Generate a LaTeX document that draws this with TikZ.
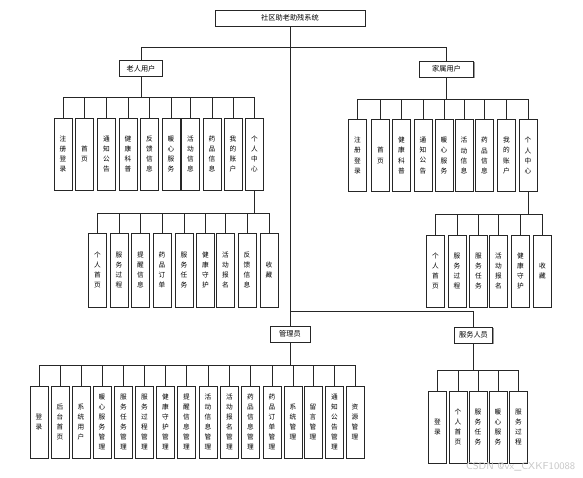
\documentclass[tikz,border=0pt]{standalone}
\usepackage{fontspec}
\usetikzlibrary{shadows}
\newfontfamily\cjk{Noto Sans CJK SC}
\definecolor{OrgLine}{HTML}{262626}
\definecolor{OrgShadow}{HTML}{9A9A9A}
\definecolor{OrgMark}{HTML}{C8C8C8}
\tikzset{
  orgbox/.style={draw=OrgLine,fill=white,line width=0.6pt,inner sep=0pt,
    drop shadow={shadow xshift=0.7pt,shadow yshift=-0.7pt,fill=OrgShadow,opacity=1}},
  headbox/.style={orgbox,minimum height=12pt,font=\cjk\fontsize{5.4}{6}\selectfont},
  leafbox/.style={orgbox,minimum width=13.5pt,minimum height=54pt,align=center,
    font=\cjk\fontsize{5}{7.6}\selectfont},
  tallbox/.style={leafbox,minimum height=55.5pt},
  link/.style={draw=OrgLine,line width=0.6pt}
}

\begin{document}
\begin{tikzpicture}[x=0.75pt,y=-0.75pt]
        \useasboundingbox (0,0) rectangle (583,478);

        % top of the tree
        \node[headbox,minimum width=112.5pt] (title) at (290,18) {社区助老助残系统};
        \node[headbox,minimum width=32pt] (elder) at (141,68.5) {老人用户};
        \node[headbox,minimum width=41pt] (family) at (446.5,69) {家属用户};
        \node[headbox,minimum width=30pt] (admin) at (290,334) {管理员};
        \node[headbox,minimum width=29pt] (staff) at (473.5,335) {服务人员};

        \draw[link] (title.south) -- (admin.north);
        \draw[link] (title.south) -- ++(0,21) -| (elder.north);
        \draw[link] (title.south) -- ++(0,21) -| (family.north);
        \draw[link] (admin.north) -- ++(0,-14) -| (staff.north);

        % elder user
        \foreach \n/\x/\t in {
            e1/63/{注\\册\\登\\录}, e2/84.5/{首\\页}, e3/106.5/{通\\知\\公\\告},
            e4/128/{健\\康\\科\\普}, e5/149.5/{反\\馈\\信\\息}, e6/171/{暖\\心\\服\\务},
            e7/190.5/{活\\动\\信\\息}, e8/212/{药\\品\\信\\息}, e9/233/{我\\的\\账\\户},
            e10/254.5/{个\\人\\中\\心}} {
          \node[leafbox] (\n) at (\x,154) {\t};
          \draw[link] (elder.south) -- ++(0,21) -| (\n.north);
        }
        \foreach \n/\x/\t in {
            ep1/97.5/{个\\人\\首\\页}, ep2/119/{服\\务\\过\\程}, ep3/140.5/{提\\醒\\信\\息},
            ep4/162/{药\\品\\订\\单}, ep5/184/{服\\务\\任\\务}, ep6/205.5/{健\\康\\守\\护},
            ep7/225.5/{活\\动\\报\\名}, ep8/247/{反\\馈\\信\\息}, ep9/269/{收\\藏}} {
          \node[tallbox] (\n) at (\x,270) {\t};
          \draw[link] (e10.south) -- ++(0,23) -| (\n.north);
        }

        % family user
        \foreach \n/\x/\t in {
            f1/357.5/{注\\册\\登\\录}, f2/380.5/{首\\页}, f3/401.5/{健\\康\\科\\普},
            f4/423/{通\\知\\公\\告}, f5/444/{暖\\心\\服\\务}, f6/464/{活\\动\\信\\息},
            f7/484.5/{药\\品\\信\\息}, f8/506.5/{我\\的\\账\\户}, f9/528/{个\\人\\中\\心}} {
          \node[leafbox] (\n) at (\x,155.5) {\t};
          \draw[link] (family.south) -- ++(0,22) -| (\n.north);
        }
        \foreach \n/\x/\t in {
            fp1/435.5/{个\\人\\首\\页}, fp2/457/{服\\务\\过\\程}, fp3/478.5/{服\\务\\任\\务},
            fp4/498.5/{活\\动\\报\\名}, fp5/520.5/{健\\康\\守\\护}, fp6/542.5/{收\\藏}} {
          \node[leafbox] (\n) at (\x,271) {\t};
          \draw[link] (f9.south) -- ++(0,23) -| (\n.north);
        }

        % administrator
        \foreach \n/\x/\t in {
            a1/39/{登\\录}, a2/60/{后\\台\\首\\页}, a3/81/{系\\统\\用\\户},
            a4/102/{暖\\心\\服\\务\\管\\理}, a5/123.5/{服\\务\\任\\务\\管\\理},
            a6/144.5/{服\\务\\过\\程\\管\\理}, a7/165.5/{健\\康\\守\\护\\管\\理},
            a8/186.5/{提\\醒\\信\\息\\管\\理}, a9/208/{活\\动\\信\\息\\管\\理},
            a10/229.5/{活\\动\\报\\名\\管\\理}, a11/250.5/{药\\品\\信\\息\\管\\理},
            a12/272/{药\\品\\订\\单\\管\\理}, a13/293/{系\\统\\管\\理},
            a14/313/{留\\言\\管\\理}, a15/334.5/{通\\知\\公\\告\\管\\理},
            a16/355/{资\\源\\管\\理}} {
          \node[leafbox] (\n) at (\x,422) {\t};
          \draw[link] (admin.south) -- ++(0,23) -| (\n.north);
        }

        % service staff
        \foreach \n/\x/\t in {
            s1/437.5/{登\\录}, s2/458/{个\\人\\首\\页}, s3/478/{服\\务\\任\\务},
            s4/498/{暖\\心\\服\\务}, s5/518.5/{服\\务\\过\\程}} {
          \node[leafbox] (\n) at (\x,427) {\t};
          \draw[link] (staff.south) -- ++(0,27) -| (\n.north);
        }

        \node[text=OrgMark,font=\sffamily\fontsize{7.5}{8}\selectfont,anchor=east]
          (mark) at (580,467) {CSDN @vx\_CXKF10088};
      \end{tikzpicture}
\end{document}
